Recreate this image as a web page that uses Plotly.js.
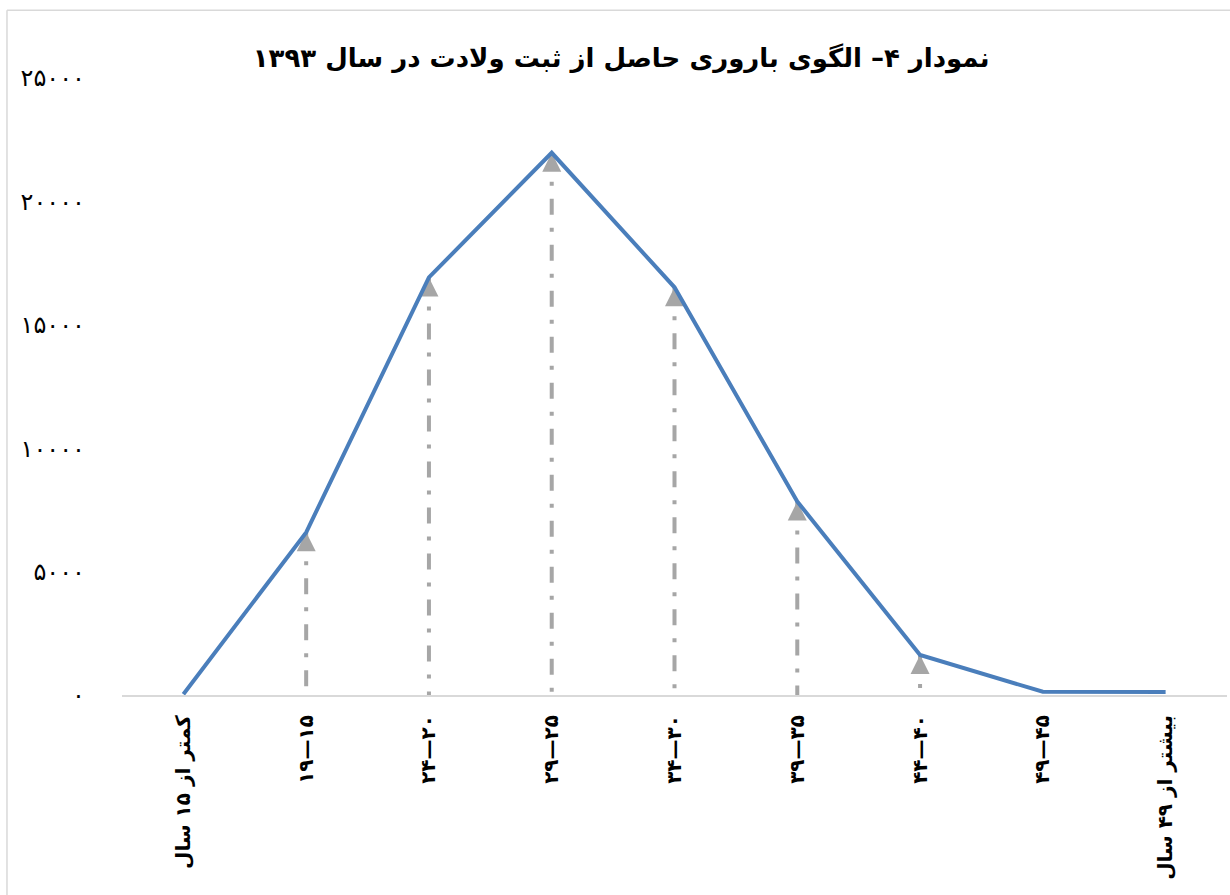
<!DOCTYPE html>
<html>
<head>
<meta charset="utf-8">
<script src="https://cdn.plot.ly/plotly-3.0.1.min.js"></script>
<style>
  html, body { margin: 0; padding: 0; background: #fff; }
  #chart { width: 1230px; height: 895px; }
</style>
</head>
<body>
<div id="chart"></div>
<script>
// age groups of the mother (RLM keeps the number ranges in right-to-left order)
const ageGroups = [
  "کمتر از ۱۵ سال",
  "\u200F۱۵—۱۹",
  "\u200F۲۰—۲۴",
  "\u200F۲۵—۲۹",
  "\u200F۳۰—۳۴",
  "\u200F۳۵—۳۹",
  "\u200F۴۰—۴۴",
  "\u200F۴۵—۴۹",
  "بیشتر از ۴۹ سال"
];

// registered births per age group
const births = [30, 6590, 16920, 21970, 16520, 7840, 1620, 130, 120];

const yTickVals = [0, 5000, 10000, 15000, 20000, 25000];
const yTickText = ["۰", "۵۰۰۰", "۱۰۰۰۰", "۱۵۰۰۰", "۲۰۰۰۰", "۲۵۰۰۰"];

const chartTitle = "نمودار ۴– الگوی باروری حاصل از ثبت ولادت در سال ۱۳۹۳";

const blue = "#4a7ebb";
const gray = "#a6a6a6";

// dash-dot stems from the axis up to each point
let traces = [];
for (let i = 0; i < ageGroups.length; i++) {
  if (births[i] < 1000) continue;
  traces.push({
    x: [ageGroups[i], ageGroups[i]],
    y: [births[i], 0],
    type: "scatter",
    mode: "lines",
    line: {color: gray, width: 4, dash: "16px,13px,4px,13px"},
    hoverinfo: "skip",
    showlegend: false
  });
}

// arrow heads at the top of the stems
let headX = [];
let headY = [];
for (let i = 0; i < ageGroups.length; i++) {
  if (births[i] < 1000) continue;
  headX.push(ageGroups[i]);
  headY.push(births[i]);
}
traces.push({
  x: headX,
  y: headY,
  type: "scatter",
  mode: "markers",
  marker: {symbol: "arrow-up", size: 19, color: gray, line: {width: 0}},
  hoverinfo: "skip",
  showlegend: false
});

// the fertility curve
traces.push({
  x: ageGroups,
  y: births,
  type: "scatter",
  mode: "lines",
  line: {color: blue, width: 4},
  showlegend: false
});

let layout = {
  width: 1230,
  height: 895,
  margin: {l: 122, r: 3, t: 78, b: 200},
  paper_bgcolor: "#ffffff",
  plot_bgcolor: "#ffffff",
  title: {
    text: chartTitle,
    x: 0.505,
    xanchor: "center",
    y: 0.935,
    yanchor: "middle",
    font: {family: "DejaVu Sans", size: 26, weight: "bold", color: "#000000"}
  },
  xaxis: {
    type: "category",
    categoryorder: "array",
    categoryarray: ageGroups,
    range: [-0.5, 8.5],
    showgrid: false,
    zeroline: false,
    showline: true,
    linecolor: "#d9d9d9",
    linewidth: 2,
    ticks: "",
    tickangle: -90,
    ticklabelstandoff: 10,
    tickfont: {family: "DejaVu Sans", size: 20, weight: "bold", color: "#000000"}
  },
  yaxis: {
    range: [0, 25000],
    showgrid: false,
    zeroline: false,
    showline: false,
    ticks: "",
    tickvals: yTickVals,
    ticktext: yTickText,
    ticklabelstandoff: 36,
    tickfont: {family: "DejaVu Sans", size: 24, color: "#000000"}
  },
  shapes: [
    {type: "line", xref: "paper", yref: "paper", x0: -0.1041, x1: -0.1041, y0: -0.4, y1: 1.11,
     line: {color: "#d9d9d9", width: 1.5}},
    {type: "line", xref: "paper", yref: "paper", x0: -0.1041, x1: 1.01, y0: 1.11, y1: 1.11,
     line: {color: "#d9d9d9", width: 1.5}}
  ]
};

Plotly.newPlot("chart", traces, layout, {displayModeBar: false});
</script>
</body>
</html>
